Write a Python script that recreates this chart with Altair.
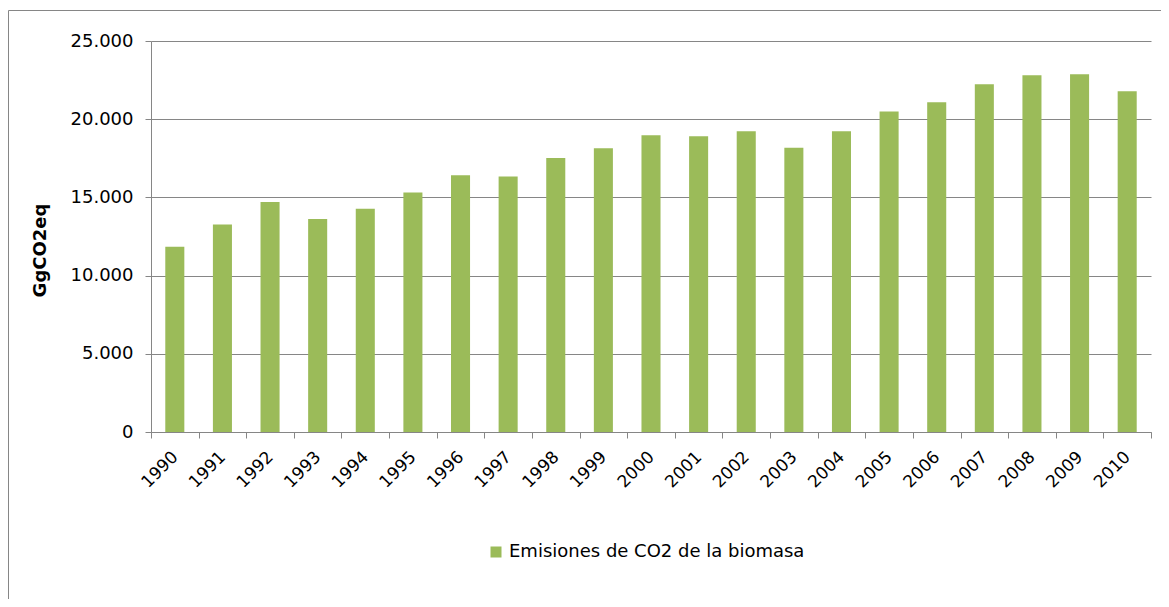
import altair as alt
import pandas as pd

years = [str(y) for y in range(1990, 2011)]
values = [11850, 13260, 14710, 13620, 14280, 15310, 16410, 16330, 17520, 18140,
          18970, 18910, 19230, 18180, 19230, 20500, 21080, 22230, 22810, 22870, 21780]
series_name = "Emisiones de CO2 de la biomasa"
y_ticks = [0, 5000, 10000, 15000, 20000, 25000]

df = pd.DataFrame({"Year": years, "Value": values, "Serie": [series_name] * len(years)})

FONT = "DejaVu Sans"
GREY = "#868686"

border = alt.Chart(alt.Data(values=[{"k": 1}])).mark_rect(
    fillOpacity=0, stroke=GREY, strokeWidth=1
).encode(
    x=alt.value(-142.5), x2=alt.value(1040),
    y=alt.value(-30.5), y2=alt.value(620)
)

bars = alt.Chart(df).mark_bar(width=alt.RelativeBandSize(0.4)).encode(
    x=alt.X("Year:N", sort=years,
            scale=alt.Scale(paddingInner=0, paddingOuter=0),
            axis=alt.Axis(title=None, labelAngle=-45, labelAlign="right",
                          labelBaseline="middle", labelPadding=16,
                          tickBand="extent", tickSize=6, tickColor=GREY,
                          domainColor=GREY, labelFont=FONT, labelFontSize=17,
                          labelColor="#000000", grid=False)),
    y=alt.Y("Value:Q", scale=alt.Scale(domain=[0, 25000], nice=False),
            axis=alt.Axis(title="GgCO2eq", values=y_ticks,
                          labelExpr="replace(format(datum.value, ','), ',', '.')",
                          tickSize=6, tickColor=GREY, domainColor=GREY,
                          gridColor=GREY, gridWidth=1.2, grid=True,
                          labelPadding=12, labelFont=FONT, labelFontSize=18,
                          labelColor="#000000",
                          titleFont=FONT, titleFontSize=18, titleFontWeight="bold",
                          titleColor="#000000", titleX=-106, titleY=209,
                          titleAlign="center", titleBaseline="alphabetic")),
    color=alt.Color("Serie:N", scale=alt.Scale(range=["#9BBB59"]),
                    legend=alt.Legend(title=None, orient="none", legendX=336, legendY=502,
                                      padding=0, symbolType="square", symbolSize=121,
                                      symbolStrokeWidth=0, labelFont=FONT,
                                      labelFontSize=18, labelColor="#000000",
                                      labelOffset=4, labelLimit=0))
)

chart = alt.layer(border, bars).properties(
    width=1000, height=391,
    padding={"left": 143, "top": 33, "right": 10, "bottom": 167},
    autosize=alt.AutoSizeParams(type="none"),
).configure_view(stroke=None)

chart.save("out.html", embed_options={"renderer": "svg", "actions": False})
